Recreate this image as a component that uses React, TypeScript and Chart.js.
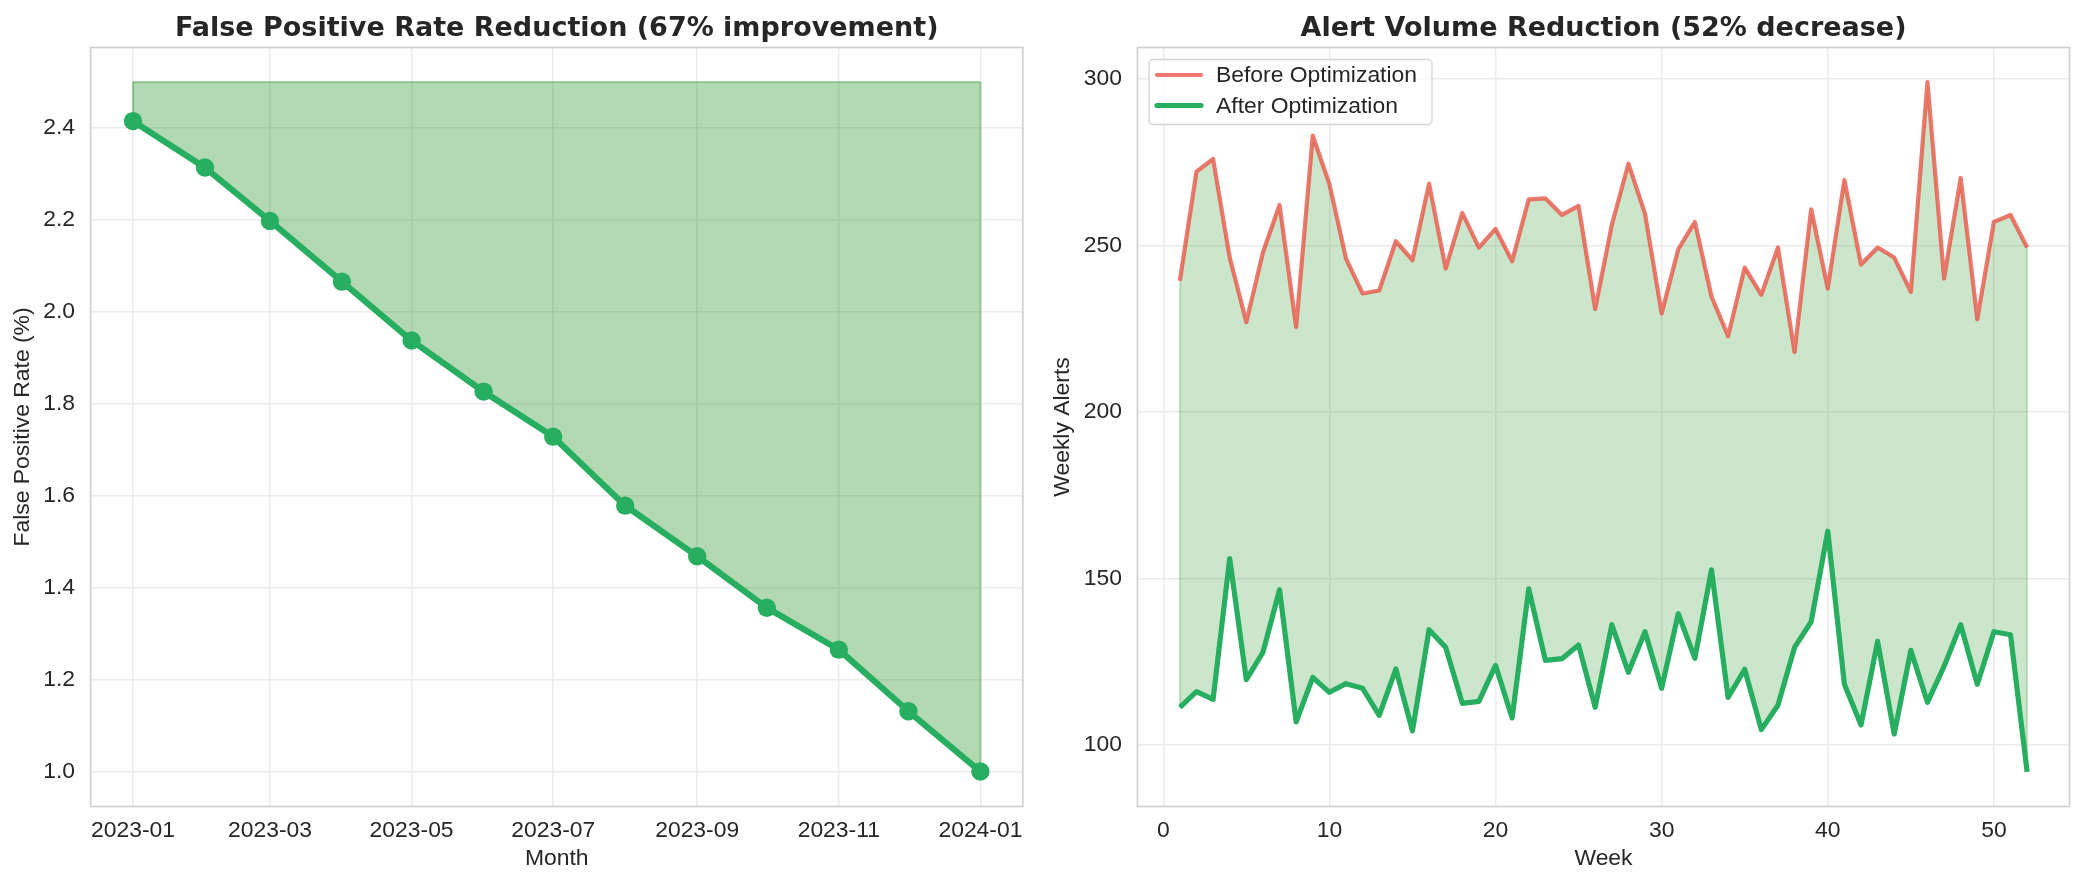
import React, { useEffect, useRef } from 'react';
import { Chart, registerables } from 'chart.js';

Chart.register(...registerables);

// ---------- Data: left chart ----------
const monthDates = [
  '2023-01-01', '2023-02-01', '2023-03-01', '2023-04-01', '2023-05-01', '2023-06-01', '2023-07-01',
  '2023-08-01', '2023-09-01', '2023-10-01', '2023-11-01', '2023-12-01', '2024-01-01',
];
const fprValues = [2.415, 2.314, 2.198, 2.066, 1.938, 1.827, 1.729, 1.579, 1.469, 1.357, 1.266, 1.132, 1.001];
const fprBaseline = 2.5;
const monthTickDates = ['2023-01-01', '2023-03-01', '2023-05-01', '2023-07-01', '2023-09-01', '2023-11-01', '2024-01-01'];
const monthTickLabels = ['2023-01', '2023-03', '2023-05', '2023-07', '2023-09', '2023-11', '2024-01'];
const fprTicks = [1.0, 1.2, 1.4, 1.6, 1.8, 2.0, 2.2, 2.4];

// ---------- Data: right chart ----------
const weeks = [
  1, 2, 3, 4, 5, 6, 7, 8, 9, 10, 11, 12, 13, 14, 15, 16, 17, 18, 19, 20, 21, 22, 23, 24, 25, 26,
  27, 28, 29, 30, 31, 32, 33, 34, 35, 36, 37, 38, 39, 40, 41, 42, 43, 44, 45, 46, 47, 48, 49, 50, 51, 52,
];
const beforeAlerts = [
  239.4, 272.2, 276.0, 246.4, 227.0, 247.9, 262.2, 225.5, 283.0, 268.5,
  246.1, 235.6, 236.5, 251.3, 245.6, 268.6, 243.1, 259.8, 249.4, 255.0,
  245.3, 263.9, 264.2, 259.2, 261.9, 231.0, 256.2, 274.6, 259.5, 229.6,
  248.9, 257.1, 234.7, 222.8, 243.4, 235.2, 249.4, 218.0, 260.9, 237.1,
  269.7, 244.3, 249.4, 246.4, 236.1, 299.1, 240.1, 270.3, 227.9, 257.1,
  259.2, 249.4,
];
const afterAlerts = [
  111.3, 116.0, 113.7, 156.0, 119.6, 127.8, 146.6, 106.9, 120.3, 115.8,
  118.4, 117.0, 108.9, 122.8, 104.2, 134.6, 129.3, 112.5, 113.1, 123.9,
  108.1, 146.9, 125.4, 125.9, 130.0, 111.3, 136.1, 121.8, 134.0, 117.0,
  139.4, 126.0, 152.6, 114.3, 122.7, 104.6, 111.9, 129.3, 137.0, 164.2,
  118.2, 106.0, 131.1, 103.3, 128.4, 112.8, 123.6, 136.1, 118.2, 134.0,
  133.1, 91.9,
];
const weekTicks = [0, 10, 20, 30, 40, 50];
const alertTicks = [100, 150, 200, 250, 300];
const seriesLabels = ['Before Optimization', 'After Optimization'];

// ---------- Styles ----------
const TEXT = '#262626';
const GRID = '#ebebeb';
const SPINE = '#d0d0d0';
const GREEN = '#27ae60';
const RED = 'rgba(231,76,60,0.75)';
const SANS = '"Liberation Sans", Arial, sans-serif';
const FS = 22.9;
const DAY = 86400000;
const dayOf = (d: string) => (Date.parse(d) - Date.parse(monthDates[0])) / DAY;

const titlePlugin = {
  id: 'axTitle',
  afterDraw(chart: any, _args: any, opts: any) {
    const { ctx, chartArea } = chart;
    ctx.save();
    ctx.font = 'bold 27px "DejaVu Sans"';
    ctx.fillStyle = TEXT;
    ctx.textAlign = 'center';
    ctx.textBaseline = 'alphabetic';
    ctx.fillText(opts.text, (chartArea.left + chartArea.right) / 2, 35.5);
    ctx.restore();
  },
};

const framePlugin = {
  id: 'frame',
  afterDatasetsDraw(chart: any) {
    const { ctx, chartArea } = chart;
    ctx.save();
    ctx.strokeStyle = SPINE;
    ctx.lineWidth = 1.7;
    ctx.strokeRect(chartArea.left, chartArea.top, chartArea.right - chartArea.left, chartArea.bottom - chartArea.top);
    ctx.restore();
  },
};

// vertical edges of the fill_between polygons
const fillEdgePlugin = {
  id: 'fillEdge',
  beforeDatasetsDraw(chart: any, _args: any, opts: any) {
    const { ctx, scales } = chart;
    const xs = scales.x;
    const ys = scales.y;
    const a = chart.data.datasets[opts.a].data;
    const b = chart.data.datasets[opts.b].data;
    ctx.save();
    ctx.strokeStyle = opts.color;
    ctx.lineWidth = 2;
    [0, a.length - 1].forEach((i) => {
      const x = xs.getPixelForValue(a[i].x);
      ctx.beginPath();
      ctx.moveTo(x, ys.getPixelForValue(a[i].y));
      ctx.lineTo(x, ys.getPixelForValue(b[i].y));
      ctx.stroke();
    });
    ctx.restore();
  },
};

const legendPlugin = {
  id: 'boxLegend',
  afterDraw(chart: any) {
    const { ctx, chartArea } = chart;
    const x0 = chartArea.left + 11.5;
    const y0 = chartArea.top + 12;
    const w = 283;
    const h = 65;
    ctx.save();
    ctx.beginPath();
    ctx.roundRect(x0, y0, w, h, 4);
    ctx.fillStyle = 'rgba(255,255,255,0.8)';
    ctx.fill();
    ctx.strokeStyle = '#d6d6d6';
    ctx.lineWidth = 1.4;
    ctx.stroke();
    const rows = [y0 + 15.5, y0 + 46];
    chart.data.datasets.forEach((ds: any, i: number) => {
      ctx.beginPath();
      ctx.strokeStyle = ds.borderColor;
      ctx.lineWidth = ds.borderWidth;
      ctx.lineCap = 'round';
      ctx.moveTo(x0 + 8, rows[i]);
      ctx.lineTo(x0 + 52, rows[i]);
      ctx.stroke();
      ctx.fillStyle = TEXT;
      ctx.font = `${FS}px ${SANS}`;
      ctx.textBaseline = 'middle';
      ctx.textAlign = 'left';
      ctx.fillText(ds.label, x0 + 67, rows[i] + 1);
    });
    ctx.restore();
  },
};

const gridOpts = { color: GRID, lineWidth: 1.5, drawTicks: false };
const tickFont = { family: SANS, size: FS };

function leftConfig(): any {
  const fprPoints = monthDates.map((d, i) => ({ x: dayOf(d), y: fprValues[i] }));
  const basePoints = monthDates.map((d) => ({ x: dayOf(d), y: fprBaseline }));
  const tickVals = monthTickDates.map(dayOf);
  return {
    type: 'line',
    data: {
      datasets: [
        {
          label: 'False Positive Rate',
          data: fprPoints,
          borderColor: GREEN,
          backgroundColor: GREEN,
          borderWidth: 6.25,
          borderJoinStyle: 'round',
          borderCapStyle: 'round',
          pointRadius: 9.2,
          pointBorderWidth: 0,
          pointBackgroundColor: GREEN,
          tension: 0,
          fill: false,
        },
        {
          label: 'baseline',
          data: basePoints,
          borderColor: 'rgba(0,128,0,0.3)',
          backgroundColor: 'rgba(0,128,0,0.3)',
          borderWidth: 2,
          pointRadius: 0,
          tension: 0,
          fill: '-1',
        },
      ],
    },
    options: {
      responsive: false,
      animation: false,
      devicePixelRatio: 1,
      events: [],
      layout: { padding: { top: 47.5, right: 17.2, bottom: 0, left: 0 } },
      plugins: {
        legend: { display: false },
        tooltip: { enabled: false },
        filler: { drawTime: 'beforeDatasetsDraw' },
        axTitle: { text: 'False Positive Rate Reduction (67% improvement)' },
        fillEdge: { a: 1, b: 0, color: 'rgba(0,128,0,0.3)' },
      },
      scales: {
        x: {
          type: 'linear',
          min: -18.25,
          max: 383.25,
          grid: gridOpts,
          border: { display: false },
          afterBuildTicks: (s: any) => { s.ticks = tickVals.map((v) => ({ value: v })); },
          afterFit: (s: any) => { s.height = 78.5; },
          ticks: {
            autoSkip: false, maxRotation: 0, minRotation: 0, padding: 10, color: TEXT, font: tickFont,
            callback: (v: number) => monthTickLabels[tickVals.indexOf(v)],
          },
          title: { display: true, text: 'Month', color: TEXT, font: tickFont, padding: { top: 0, bottom: 12.6 } },
        },
        y: {
          type: 'linear',
          min: 0.925,
          max: 2.575,
          grid: gridOpts,
          border: { display: false },
          afterBuildTicks: (s: any) => { s.ticks = fprTicks.map((v) => ({ value: v })); },
          afterFit: (s: any) => { s.width = 90.6; },
          ticks: { padding: 15.5, color: TEXT, font: tickFont, callback: (v: number) => v.toFixed(1) },
          title: { display: true, text: 'False Positive Rate (%)', color: TEXT, font: tickFont, padding: { top: 9.2, bottom: 0 } },
        },
      },
    },
    plugins: [titlePlugin, framePlugin, fillEdgePlugin],
  };
}

function rightConfig(): any {
  const beforePts = weeks.map((w, i) => ({ x: w, y: beforeAlerts[i] }));
  const afterPts = weeks.map((w, i) => ({ x: w, y: afterAlerts[i] }));
  return {
    type: 'line',
    data: {
      datasets: [
        {
          label: seriesLabels[0],
          data: beforePts,
          borderColor: RED,
          backgroundColor: 'rgba(0,128,0,0.2)',
          borderWidth: 4.2,
          borderJoinStyle: 'round',
          borderCapStyle: 'butt',
          pointRadius: 0,
          tension: 0,
          fill: '+1',
        },
        {
          label: seriesLabels[1],
          data: afterPts,
          borderColor: GREEN,
          borderWidth: 5.2,
          borderJoinStyle: 'round',
          borderCapStyle: 'butt',
          pointRadius: 0,
          tension: 0,
          fill: false,
        },
      ],
    },
    options: {
      responsive: false,
      animation: false,
      devicePixelRatio: 1,
      events: [],
      layout: { padding: { top: 47.5, right: 15.5, bottom: 0, left: 0 } },
      plugins: {
        legend: { display: false },
        tooltip: { enabled: false },
        filler: { drawTime: 'beforeDatasetsDraw' },
        axTitle: { text: 'Alert Volume Reduction (52% decrease)' },
        fillEdge: { a: 0, b: 1, color: 'rgba(0,128,0,0.2)' },
      },
      scales: {
        x: {
          type: 'linear',
          min: -1.55,
          max: 54.55,
          grid: gridOpts,
          border: { display: false },
          afterBuildTicks: (s: any) => { s.ticks = weekTicks.map((v) => ({ value: v })); },
          afterFit: (s: any) => { s.height = 78.5; },
          ticks: { autoSkip: false, maxRotation: 0, minRotation: 0, padding: 10, color: TEXT, font: tickFont, callback: (v: number) => String(v) },
          title: { display: true, text: 'Week', color: TEXT, font: tickFont, padding: { top: 0, bottom: 12.6 } },
        },
        y: {
          type: 'linear',
          min: 81.5,
          max: 309.5,
          grid: gridOpts,
          border: { display: false },
          afterBuildTicks: (s: any) => { s.ticks = alertTicks.map((v) => ({ value: v })); },
          afterFit: (s: any) => { s.width = 92.5; },
          ticks: { padding: 15.5, color: TEXT, font: tickFont, callback: (v: number) => String(v) },
          title: { display: true, text: 'Weekly Alerts', color: TEXT, font: tickFont, padding: { top: 4, bottom: 0 } },
        },
      },
    },
    plugins: [titlePlugin, framePlugin, fillEdgePlugin, legendPlugin],
  };
}

export default function App() {
  const leftRef = useRef<HTMLCanvasElement>(null);
  const rightRef = useRef<HTMLCanvasElement>(null);
  useEffect(() => {
    const left = new Chart(leftRef.current as HTMLCanvasElement, leftConfig());
    const right = new Chart(rightRef.current as HTMLCanvasElement, rightConfig());
    return () => {
      left.destroy();
      right.destroy();
    };
  }, []);
  return (
    <div style={{ position: 'absolute', left: 0, top: 0, width: 2085, height: 885, background: '#ffffff', overflow: 'hidden' }}>
      <canvas ref={leftRef} width={1040} height={885} style={{ position: 'absolute', left: 0, top: 0, width: 1040, height: 885 }} />
      <canvas ref={rightRef} width={1040} height={885} style={{ position: 'absolute', left: 1045, top: 0, width: 1040, height: 885 }} />
    </div>
  );
}
